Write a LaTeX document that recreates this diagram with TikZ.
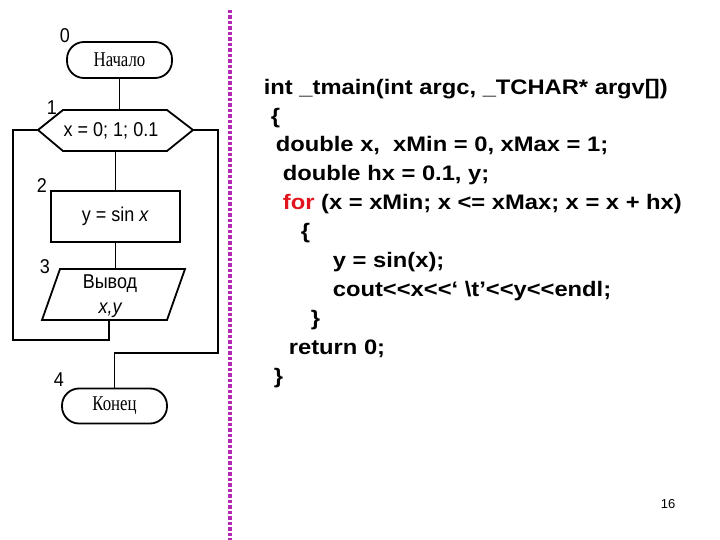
\documentclass[tikz,border=0pt]{standalone}
\usepackage{fontspec}
\setmainfont{Liberation Sans}
\newfontfamily\codefont{Liberation Sans}[Ligatures=TeXOff,FakeStretch=1.13]
\newfontfamily\chartfont{Liberation Sans}[Ligatures=TeXOff,FakeStretch=0.9]
\newfontfamily\pagefont{Liberation Sans}
\newfontfamily\termfont{Liberation Serif}[FakeStretch=0.8]
\definecolor{dotline}{RGB}{180,40,180}
\definecolor{forred}{RGB}{225,20,30}
\begin{document}
\begin{tikzpicture}[x=1pt,y=-1pt,line width=1.8pt,
  term/.style={draw,rounded corners=17pt,minimum width=105pt,minimum height=36pt,inner sep=0pt,font=\termfont\fontsize{21}{23}\selectfont},
  lbl/.style={inner sep=0pt,font=\chartfont\fontsize{20}{22}\selectfont},
  txt/.style={inner sep=0pt,font=\chartfont\fontsize{20}{22}\selectfont},
  procbox/.style={draw,minimum width=129pt,minimum height=51pt,inner sep=0pt,font=\chartfont\fontsize{20}{22}\selectfont},
  code/.style={anchor=base west,inner sep=0pt,font=\codefont\bfseries\fontsize{21}{25}\selectfont},
  sep/.style={draw=dotline,line width=3.5pt,dash pattern=on 3.5pt off 2pt}]
\fill[white] (0,0) rectangle (720,540);
\useasboundingbox (0,0) rectangle (720,540);
% separator
\coordinate (dtop) at (230,10);
\coordinate (dbot) at (230,540);
\draw[sep] (dtop) -- (dbot);
% flowchart
\node[term] (start) at (119.5,60) {Начало};
\coordinate (hL) at (38,130);
\coordinate (hTL) at (63,110);
\coordinate (hTR) at (167,110);
\coordinate (hR) at (193,130);
\coordinate (hBR) at (167,151);
\coordinate (hBL) at (63,151);
\draw (hL) -- (hTL) -- (hTR) -- (hR) -- (hBR) -- (hBL) -- cycle;
\node[txt] (hex) at (111,131) {x = 0; 1; 0.1};
\node[procbox] (calc) at (115.5,216.5) {y = sin \textit{x}};
\coordinate (pTL) at (60,269);
\coordinate (pTR) at (185,269);
\coordinate (pBR) at (167,320);
\coordinate (pBL) at (42,320);
\draw (pTL) -- (pTR) -- (pBR) -- (pBL) -- cycle;
\node[txt] (outa) at (110,284) {Вывод};
\node[txt] (outb) at (110,310) {\itshape x,y};
\node[term,minimum height=35pt] (end) at (114.5,406) {Конец};
% labels
\node[lbl] (n0) at (65,36) {0};
\node[lbl] (n1) at (52,108) {1};
\node[lbl] (n2) at (42,186) {2};
\node[lbl] (n3) at (45,267) {3};
\node[lbl] (n4) at (59,380) {4};
% connectors
\draw (start.south) -- (start.south |- hTR);
\draw (calc.north |- hBL) -- (calc.north);
\draw (calc.south) -- (calc.south |- pTL);
\coordinate (pout) at (109,320);
\coordinate (loopL) at (13,340);
\draw (pout) |- (loopL) |- (hL);
\coordinate (exitR) at (218,353);
\draw (hR) -| (exitR) -| (end.north);
% code
\node[code] (c1) at (263,95) {int \_tmain(int argc, \_TCHAR* argv[\kern-1pt])};
\node[code] (c2) at (270,124) {\{};
\node[code] (c3) at (275,152) {double x,\ \ xMin = 0, xMax = 1;};
\node[code] (c4) at (282,181) {double hx = 0.1, y;};
\node[code] (c5) at (282,210) {\textcolor{forred}{for} (x = xMin; x <= xMax; x = x + hx)};
\node[code] (c6) at (300,239) {\{};
\node[code] (c7) at (332,267) {y = sin(x);};
\node[code] (c8) at (332,296) {cout<<x<<‘ \textbackslash t’<<y<<endl;};
\node[code] (c9) at (310,325) {\}};
\node[code] (c10) at (288,354) {return 0;};
\node[code] (c11) at (273,383) {\}};
\node[inner sep=0pt,font=\pagefont\fontsize{13}{15}\selectfont] (pg) at (668,504) {16};
\end{tikzpicture}
\end{document}
